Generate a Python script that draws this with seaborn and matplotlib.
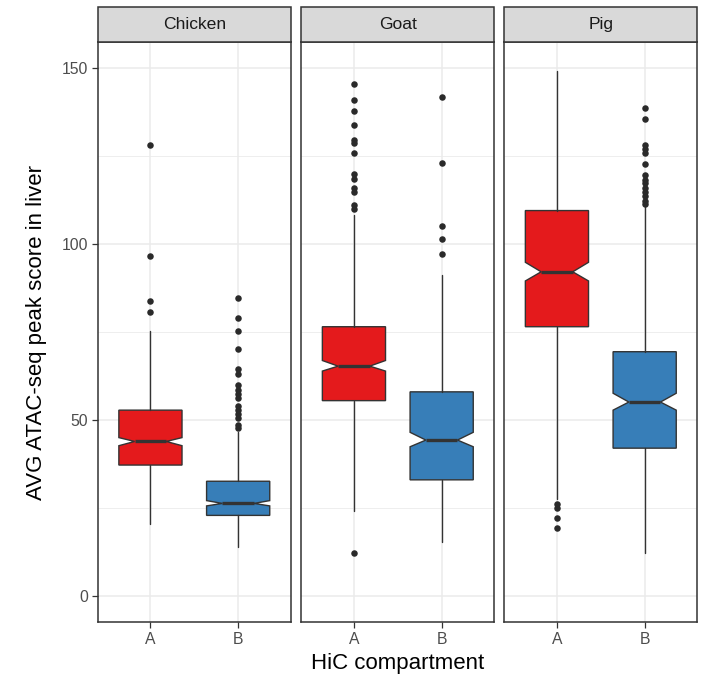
import numpy as np
import pandas as pd
import matplotlib
matplotlib.use("Agg")
import matplotlib.pyplot as plt
import seaborn as sns
from matplotlib.patches import Rectangle

# ---------------- data ----------------
species = ["Chicken", "Goat", "Pig"]
compartments = ["A", "B"]

# order: Chicken A, Chicken B, Goat A, Goat B, Pig A, Pig B
medians = [43.9, 26.3, 65.3, 44.3, 92.1, 55.1]
q1_vals = [37.2, 22.9, 55.5, 33.0, 76.5, 42.0]
q3_vals = [52.8, 32.6, 76.5, 58.0, 109.5, 69.4]
whisker_low = [20.5, 13.9, 24.1, 15.3, 27.5, 12.2]
whisker_high = [75.2, 46.6, 108.2, 91.2, 149.1, 110.6]
notch_low = [42.7, 25.6, 63.9, 42.4, 89.5, 52.8]
notch_high = [45.0, 27.1, 66.9, 46.5, 94.8, 57.6]

outliers_chicken_a = [128.2, 96.5, 83.8, 80.6]
outliers_chicken_b = [84.6, 79.1, 75.3, 70.2, 64.4, 63.2, 59.9, 58.5, 57.3,
                      56.2, 54.0, 52.8, 51.6, 50.5, 48.5, 47.6]
outliers_goat_a = [145.4, 140.8, 137.7, 133.9, 129.5, 128.7, 125.9, 119.8,
                   118.4, 116.0, 114.8, 111.2, 109.9, 12.2]
outliers_goat_b = [141.7, 123.1, 105.0, 101.5, 97.2]
outliers_pig_a = [26.2, 25.0, 22.3, 19.2]
outliers_pig_b = [138.5, 135.6, 128.1, 127.0, 125.8, 122.6, 119.5, 118.3,
                  117.2, 116.0, 114.8, 113.5, 112.3, 111.4]
outliers = [outliers_chicken_a, outliers_chicken_b, outliers_goat_a,
            outliers_goat_b, outliers_pig_a, outliers_pig_b]

y_ticks = [0, 50, 100, 150]
y_minor = [25, 75, 125]
fill_colors = {"A": "#E41A1C", "B": "#377EB8"}

# ---------------- styling ----------------
sns.set_theme(style="whitegrid")
plt.rcParams["font.family"] = ["Liberation Sans", "DejaVu Sans"]

W, H = 705, 684
fig = plt.figure(figsize=(W / 100, H / 100), dpi=100)
fig.patch.set_facecolor("white")

panel_top_px, panel_bot_px = 41.6, 622.4
panel_lefts = [97.8, 301.3, 504.3]
panel_w = 193.0
strip_h = 34.3

dark = "#333333"
flier_rows = []
for i, sp in enumerate(species):
    for j, comp in enumerate(compartments):
        for v in outliers[i * 2 + j]:
            flier_rows.append({"species": sp, "compartment": comp, "pos": j + 1, "value": v})
flier_df = pd.DataFrame(flier_rows)

axes = []
for i, sp in enumerate(species):
    left = panel_lefts[i] / W
    bottom = (H - panel_bot_px) / H
    height = (panel_bot_px - panel_top_px) / H
    ax = fig.add_axes([left, bottom, panel_w / W, height])
    axes.append(ax)
    ax.set_facecolor("white")

    stats = []
    for j, comp in enumerate(compartments):
        k = i * 2 + j
        stats.append(dict(med=medians[k], q1=q1_vals[k], q3=q3_vals[k],
                          whislo=whisker_low[k], whishi=whisker_high[k],
                          cilo=notch_low[k], cihi=notch_high[k], fliers=[],
                          label=comp))
    res = ax.bxp(stats, positions=[1, 2], widths=0.72, shownotches=True,
                 showcaps=False, showfliers=False, patch_artist=True,
                 boxprops=dict(edgecolor=dark, linewidth=1.0),
                 whiskerprops=dict(color=dark, linewidth=1.0),
                 medianprops=dict(color=dark, linewidth=2.4, solid_capstyle="butt"),
                 zorder=3)
    for patch, comp in zip(res["boxes"], compartments):
        patch.set_facecolor(fill_colors[comp])

    sub = flier_df[flier_df["species"] == sp]
    sns.scatterplot(data=sub, x="pos", y="value", ax=ax, color="#2a2a2a",
                    s=22, linewidth=0, legend=False, zorder=4)

    ax.set_xlim(0.4, 2.6)
    ax.set_ylim(-7.5, 157.5)
    ax.set_xticks([1, 2])
    ax.set_xticklabels(compartments)
    ax.set_yticks(y_ticks)
    ax.set_yticks(y_minor, minor=True)
    ax.grid(True, which="major", color="#EBEBEB", linewidth=1.1, zorder=0)
    ax.grid(True, which="minor", axis="y", color="#EBEBEB", linewidth=0.6, zorder=0)
    ax.set_axisbelow(True)
    ax.set_xlabel("")
    ax.set_ylabel("")
    for s in ax.spines.values():
        s.set_visible(True)
        s.set_color(dark)
        s.set_linewidth(1.1)
    ax.tick_params(axis="x", which="major", length=4.5, width=0.9, color=dark,
                   labelsize=11.3, labelcolor="#4D4D4D", pad=2.5, bottom=True)
    ax.tick_params(axis="y", which="both", length=4.5, width=0.9, color=dark,
                   labelsize=11.3, labelcolor="#4D4D4D", pad=2.5)
    ax.tick_params(axis="y", which="minor", length=0)
    if i == 0:
        ax.set_yticklabels([str(t) for t in y_ticks])
        ax.tick_params(axis="y", left=True)
    else:
        ax.tick_params(axis="y", left=False, labelleft=False)

    # facet strip
    sh = strip_h / (panel_bot_px - panel_top_px)
    ax.add_patch(Rectangle((0, 1), 1, sh, transform=ax.transAxes,
                           facecolor="#D9D9D9", edgecolor=dark, linewidth=1.1,
                           clip_on=False, zorder=5))
    ax.text(0.5, 1 + sh / 2, sp, transform=ax.transAxes, ha="center",
            va="center", fontsize=12.6, color="#1A1A1A", zorder=6)

fig.text(397.5 / W, 1 - 664 / H, "HiC compartment", ha="center", va="center",
         fontsize=16, color="black")
fig.text(36.7 / W, 1 - 332 / H, "AVG ATAC-seq peak score in liver", ha="center",
         va="center", rotation=90, fontsize=16, color="black")

fig.savefig("out.png", dpi=100, facecolor="white")
